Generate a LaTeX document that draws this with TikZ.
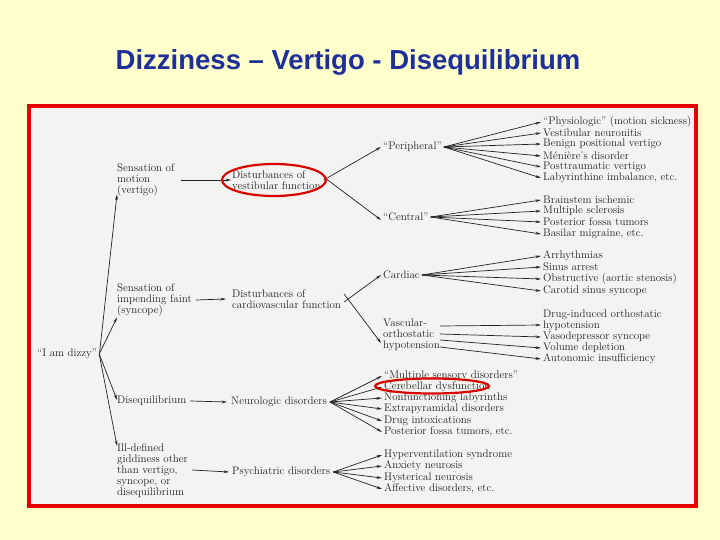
\documentclass[tikz,border=0pt]{standalone}
\usepackage{fontspec}
\newfontfamily\titlefont{Liberation Sans}
\usetikzlibrary{arrows.meta}
\definecolor{bgy}{HTML}{FFFFCC}
\definecolor{ttl}{HTML}{1F2F9A}
\definecolor{paper}{HTML}{F3F3F1}
\definecolor{ink}{HTML}{222222}
\tikzset{
 t/.style={anchor=west,inner sep=0pt,align=left,text=ink,font=\fontsize{11}{11}\selectfont},
 arr/.style={draw=ink,line width=0.7pt,-{Stealth[length=5.5pt,width=2.8pt]}},
 ring/.style={draw=red!85!black,line width=2.2pt},
}
\begin{document}
\begin{tikzpicture}[x=1pt,y=-1pt]
\useasboundingbox (0,0) rectangle (720,540);
\fill[bgy] (0,0) rectangle (720,540);
\node[font=\titlefont\bfseries\fontsize{27.5}{29}\selectfont,text=ttl] (title) at (348,62) {Dizziness – Vertigo - Disequilibrium};
\draw[draw=red!90!black,fill=paper,line width=3.5pt] (29,106) rectangle (696,506);
% left column
\node[t] (dizzy) at (37,354) {``I am dizzy''};
\node[t] (motion) at (117,180) {Sensation of\\motion\\(vertigo)};
\node[t] (faint) at (117,300) {Sensation of\\impending faint\\(syncope)};
\node[t] (diseq) at (117,401) {Disequilibrium};
\node[t] (ill) at (117,471) {Ill-defined\\giddiness other\\than vertigo,\\syncope, or\\disequilibrium};
% second column
\node[t] (vest) at (232,180) {Disturbances of\\vestibular function};
\node[t] (cardio) at (232,299) {Disturbances of\\cardiovascular function};
\node[t] (neuro) at (231,402) {Neurologic disorders};
\node[t] (psych) at (232,472) {Psychiatric disorders};
% third column
\node[t] (peri) at (383,147) {``Peripheral''};
\node[t] (cent) at (383,217) {``Central''};
\node[t] (card) at (383,275) {Cardiac};
\node[t] (vasc) at (383,335) {Vascular-\\orthostatic\\hypotension};
% leaves
\node[t] (p1) at (543,122) {``Physiologic'' (motion sickness)};
\node[t] (p2) at (543,133) {Vestibular neuronitis};
\node[t] (p3) at (543,144) {Benign positional vertigo};
\node[t] (p4) at (543,156) {M\'eni\`ere's disorder};
\node[t] (p5) at (543,167) {Posttraumatic vertigo};
\node[t] (p6) at (543,178) {Labyrinthine imbalance, etc.};
\node[t] (c1) at (543,200) {Brainstem ischemic};
\node[t] (c2) at (543,211) {Multiple sclerosis};
\node[t] (c3) at (543,222) {Posterior fossa tumors};
\node[t] (c4) at (543,234) {Basilar migraine, etc.};
\node[t] (k1) at (543,256) {Arrhythmias};
\node[t] (k2) at (543,267) {Sinus arrest};
\node[t] (k3) at (543,279) {Obstructive (aortic stenosis)};
\node[t] (k4) at (543,291) {Carotid sinus syncope};
\node[t] (v1) at (543,320) {Drug-induced orthostatic\\hypotension};
\node[t] (v2) at (543,337) {Vasodepressor syncope};
\node[t] (v3) at (543,348) {Volume depletion};
\node[t] (v4) at (543,359) {Autonomic insufficiency};
\node[t] (n1) at (384,376) {``Multiple sensory disorders''};
\node[t] (n2) at (384,387) {Cerebellar dysfunction};
\node[t] (n3) at (384,398) {Nonfunctioning labyrinths};
\node[t] (n4) at (384,409) {Extrapyramidal disorders};
\node[t] (n5) at (384,421) {Drug intoxications};
\node[t] (n6) at (384,432) {Posterior fossa tumors, etc.};
\node[t] (s1) at (384,455) {Hyperventilation syndrome};
\node[t] (s2) at (384,466) {Anxiety neurosis};
\node[t] (s3) at (384,478) {Hysterical neurosis};
\node[t] (s4) at (384,489) {Affective disorders, etc.};
% arrows from I am dizzy
\draw[arr] ([xshift=2pt,yshift=-2pt]dizzy.east) -- ([yshift=2pt]motion.south west);
\draw[arr] ([xshift=2pt]dizzy.east) -- ([yshift=-1pt]faint.south west);
\draw[arr] ([xshift=2pt]dizzy.east) -- ([yshift=-4pt]diseq.north west);
\draw[arr] ([xshift=2pt]dizzy.east) -- ([yshift=-2pt]ill.north west);
% to second column
\draw[arr] ([xshift=6pt]motion.east) -- ([xshift=-1pt]vest.west);
\draw[arr] ([xshift=4pt]faint.east) -- ([xshift=-6pt]cardio.west);
\draw[arr] ([xshift=4pt]diseq.east) -- ([xshift=-4pt]neuro.west);
\draw[arr] ([xshift=4pt,yshift=1pt]ill.east) -- ([xshift=-3pt]psych.west);
% second to third
\draw[arr] ([xshift=3pt]vest.east) -- ([xshift=-2pt]peri.west);
\draw[arr] ([xshift=3pt,yshift=3pt]vest.east) -- ([xshift=-2pt,yshift=-3pt]cent.west);
\draw[arr] ([xshift=3pt,yshift=-3pt]cardio.east) -- ([xshift=-2pt]card.west);
\draw[arr] ([xshift=3pt,yshift=5pt]cardio.east) -- ([xshift=-2pt,yshift=-8pt]vasc.west);
\foreach \l in {p1,p2,p3,p4,p5,p6} \draw[arr] ([xshift=2pt]peri.east) -- ([xshift=-2pt]\l.west);
\foreach \l in {c1,c2,c3,c4} \draw[arr] ([xshift=2pt]cent.east) -- ([xshift=-2pt]\l.west);
\foreach \l in {k1,k2,k3,k4} \draw[arr] ([xshift=2pt]card.east) -- ([xshift=-2pt]\l.west);
\draw[arr] (vasc.east|-335,326) -- ([xshift=-2pt,yshift=-5pt]v1.west);
\draw[arr] (vasc.east|-335,334) -- ([xshift=-2pt]v2.west);
\draw[arr] (vasc.east|-335,340) -- ([xshift=-2pt]v3.west);
\draw[arr] (vasc.east|-335,347) -- ([xshift=-2pt]v4.west);
\foreach \l in {n1,n2,n3,n4,n5,n6} \draw[arr] ([xshift=3pt]neuro.east) -- ([xshift=-2pt]\l.west);
\foreach \l in {s1,s2,s3,s4} \draw[arr] ([xshift=3pt]psych.east) -- ([xshift=-2pt]\l.west);
% red rings
\draw[ring] (274,180) ellipse (52 and 16);
\draw[ring] (432,386) ellipse (57 and 7.5);
\end{tikzpicture}
\end{document}
